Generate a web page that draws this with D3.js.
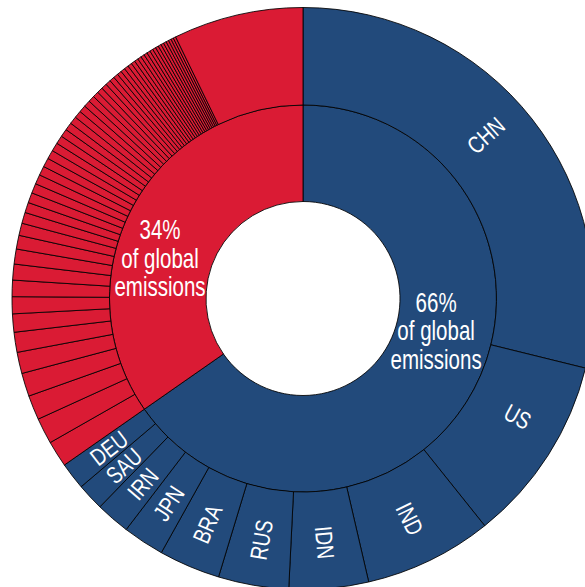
<!DOCTYPE html>
<html><head><meta charset="utf-8">
<script src="https://cdn.jsdelivr.net/npm/d3@7"></script>
<style>html,body{margin:0;padding:0;background:#fff;} svg{display:block;}</style>
</head><body>
<svg id="chart" width="585" height="587"></svg>
<script>
// ---- data (shares of global emissions, %) ----
const groupNames = ["Top emitters", "Rest of world"];
const groupShareLabels = ["66%", "34%"];
const groupSubLabel = ["of global", "emissions"];
const topCountries = ["CHN","US","IND","IDN","RUS","BRA","JPN","IRN","SAU","DEU"];
const topValues = [28.8, 10.4, 7.1, 4.4, 3.9, 3.4, 2.3, 1.9, 1.5, 1.5];
const restValues = [
  1.45, 1.44, 1.36, 1.29, 1.18, 1.11, 1.01, 0.94,
  0.91, 0.88, 0.83, 0.76, 0.68, 0.61,
  0.57, 0.56, 0.54, 0.53, 0.51, 0.50, 0.49, 0.47, 0.46, 0.44, 0.43, 0.42, 0.40,
  0.39, 0.36, 0.35, 0.33, 0.32, 0.31, 0.29, 0.28, 0.26, 0.25,
  0.24, 0.24, 0.23, 0.22, 0.21, 0.21, 0.20, 0.19, 0.19, 0.18,
  0.18, 0.17, 0.17, 0.16, 0.16, 0.15, 0.15, 0.14, 0.14
];
const restOtherValue = 7.2;

// ---- layout ----
const W = 585, H = 587;
const cx = 303, cy = 298.5;
const colors = ["#224A7B", "#DA1B34"];
const radii = [97, 193.5, 291];
const labelRadius = 245;
const labelAngleNudge = { CHN: -3.7, US: -3.8 };        // degrees
const groupLabelPos = [[103.7, 137], [285.8, 148.6]];   // [angle deg, radius]

const data = {
  name: "World",
  children: [
    { name: groupNames[0], g: 0, children: topCountries.map((c, i) => ({ name: c, g: 0, value: topValues[i], label: true })) },
    { name: groupNames[1], g: 1, children: restValues.map((v, i) => ({ name: "R" + (i + 1), g: 1, value: v }))
        .concat([{ name: "Other", g: 1, value: restOtherValue }]) }
  ]
};

const root = d3.hierarchy(data).sum(d => d.value || 0);
d3.partition().size([2 * Math.PI, 3])(root);

const r = d3.scaleLinear().domain([1, 2, 3]).range(radii);
const arc = d3.arc()
  .startAngle(d => d.x0).endAngle(d => d.x1)
  .innerRadius(d => r(d.y0)).outerRadius(d => r(d.y1));

const svg = d3.select("#chart");
const g = svg.append("g").attr("transform", `translate(${cx},${cy})`);

const nodes = root.descendants().filter(d => d.depth > 0);
g.selectAll("path").data(nodes).join("path")
  .attr("d", arc)
  .attr("fill", d => colors[d.data.g])
  .attr("stroke", "#000")
  .attr("stroke-width", 0.85);

const font = "'Liberation Sans', Arial, sans-serif";

// country labels
g.selectAll("text.country").data(nodes.filter(d => d.data.label)).join("text")
  .attr("class", "country")
  .attr("transform", d => {
    const a = (d.x0 + d.x1) / 2 * 180 / Math.PI + (labelAngleNudge[d.data.name] || 0);
    return `rotate(${a - 90}) translate(${labelRadius},0) rotate(${a < 180 ? 0 : 180}) scale(0.79,1)`;
  })
  .attr("text-anchor", "middle")
  .attr("dy", "0.36em")
  .attr("fill", "#fff")
  .style("font-family", font)
  .style("font-size", "24px")
  .text(d => d.data.name);

// group labels
root.children.forEach((d, i) => {
  const [ang, rad] = groupLabelPos[i];
  const t = ang * Math.PI / 180;
  const x = rad * Math.sin(t), y = -rad * Math.cos(t);
  const lines = [groupShareLabels[i]].concat(groupSubLabel);
  const txt = g.append("text")
    .attr("transform", `translate(${x},${y}) scale(0.76,1)`)
    .attr("text-anchor", "middle")
    .attr("fill", "#fff")
    .style("font-family", font)
    .style("font-size", "27px");
  lines.forEach((l, k) => {
    txt.append("tspan").attr("x", 0).attr("y", (k - 1) * 28.5 + 9.5).text(l);
  });
});
</script>
</body></html>
